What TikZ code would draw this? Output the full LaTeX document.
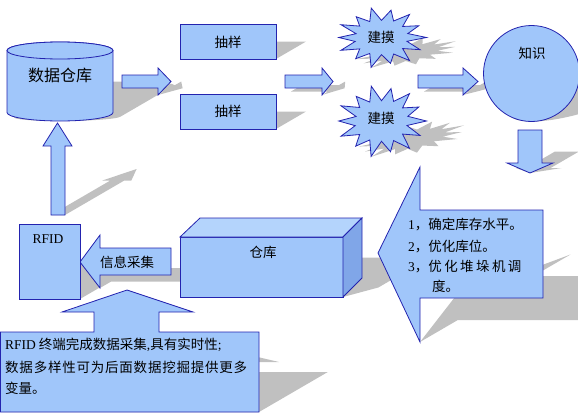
\documentclass[tikz,border=0pt]{standalone}
\usepackage{fontspec}
\setmainfont{Liberation Serif}
\newfontfamily\cjk{Noto Sans CJK SC}
\definecolor{fillb}{RGB}{160,198,250}
\definecolor{lineb}{RGB}{35,35,175}
\definecolor{topb}{RGB}{180,212,252}
\definecolor{sideb}{RGB}{128,166,232}
\definecolor{shad}{RGB}{192,192,192}
\tikzset{
  shp/.style={fill=fillb, draw=lineb, line width=0.8pt, line join=miter},
  sdw/.style={fill=shad, draw=none, cm={1,0,0.86,0.5,({0.86*#1pt},{-0.5*#1pt})}},
  lbl/.style={inner sep=0pt, font=\cjk\fontsize{13.5}{16}\selectfont},
}
% shape paths (pixel coordinates, y downwards)
\newcommand\pCyl{(7,50.5) -- (7,112.5) arc[start angle=180,end angle=360,x radius=53pt,y radius=8.5pt] -- (113,50.5) arc[start angle=0,end angle=180,x radius=53pt,y radius=8.5pt] -- cycle}
\newcommand\pBox[4]{(#1,#2) -- (#3,#2) -- (#3,#4) -- (#1,#4) -- cycle}
\newcommand\pRA[3]{(#1,75) -- (#2,75) -- (#2,68) -- (#3,81.5) -- (#2,95) -- (#2,88) -- (#1,88) -- cycle}
\newcommand\pStar[2]{(0:#1 and #2) \foreach \f [count=\i] in {.58,.95,.6,1.0,.62,.9,.58,1.04,.6,.92,.62,1.0,.6,.95,.58,1.0,.62,.9,.6,1.02,.58,.95,.62,1.0,.6,.92,.6}{ -- ({\i*360/28}:{#1*\f} and {#2*\f}) } -- cycle}
\newcommand\pCirc{(531.5,73.5) circle[radius=48]}
\newcommand\pDown{(518,130) -- (542,130) -- (542,163) -- (553,163) -- (530,173) -- (507,163) -- (518,163) -- cycle}
\newcommand\pBig{(378,253) -- (420,167) -- (420,210) -- (543,210) -- (543,298) -- (420,298) -- (420,342) -- cycle}
\newcommand\pCube{(180,237) -- (200,218) -- (362,218) -- (362,278) -- (343,297) -- (180,297) -- cycle}
\newcommand\pInfo{(80,262) -- (100,235) -- (100,248) -- (171,248) -- (171,275) -- (100,275) -- (100,288) -- cycle}
\newcommand\pUp{(57.5,123) -- (72,146) -- (65,146) -- (65,215) -- (51,215) -- (51,146) -- (43,146) -- cycle}
\newcommand\pCall{(0.5,332) -- (94,332) -- (94,312) -- (62,312) -- (127,290) -- (193,312) -- (159,312) -- (159,332) -- (259,332) -- (259,412) -- (0.5,412) -- cycle}
\begin{document}
\begin{tikzpicture}[x=1pt,y=-1pt]
\useasboundingbox (0,0) rectangle (578,415);
% ---- shadows ----
\fill[sdw=121] \pCyl;
\fill[sdw=59] \pBox{180}{24}{276}{59};
\fill[sdw=129] \pBox{180}{94}{276}{129};
\fill[sdw=95] \pRA{122}{158}{171};
\fill[sdw=95] \pRA{285}{322}{333};
\fill[sdw=95] \pRA{418}{463}{478};
\fill[sdw=68, shift={(381.5,37.5)}] \pStar{45}{29.5};
\fill[sdw=157, shift={(381.5,121)}] \pStar{45}{35};
\fill[sdw=121.5] \pCirc;
\fill[sdw=173] \pDown;
\fill[sdw=342] \pBig;
\fill[sdw=297] \pCube;
\fill[sdw=288] \pInfo;
\fill[sdw=299] \pBox{19}{224}{80}{299};
\fill[sdw=215] \pUp;
\fill[sdw=412] \pCall;
% ---- shapes ----
\draw[shp] \pCyl;
\draw[shp] (60,50.5) ellipse[x radius=53pt, y radius=8.5pt];
\node[lbl, font=\cjk\fontsize{16}{18}\selectfont] (dw) at (60,75) {数据仓库};
\draw[shp] \pBox{180}{24}{276}{59};
\node[lbl] (cy1) at (228,42) {抽样};
\draw[shp] \pBox{180}{94}{276}{129};
\node[lbl] (cy2) at (228,111) {抽样};
\draw[shp] \pRA{122}{158}{171};
\draw[shp] \pRA{285}{322}{333};
\draw[shp] \pRA{418}{463}{478};
\draw[shp, shift={(381.5,37.5)}] \pStar{45}{29.5};
\node[lbl] (jm1) at (381,37) {建摸};
\draw[shp, shift={(381.5,121)}] \pStar{45}{35};
\node[lbl] (jm2) at (381,118) {建摸};
\draw[shp] \pCirc;
\node[lbl] (zs) at (532,53) {知识};
\draw[shp] \pDown;
\draw[shp] \pBig;
\node[lbl, anchor=west] (t1) at (408,225) {{\rmfamily 1}，确定库存水平。};
\node[lbl, anchor=west] (t2) at (408,247) {{\rmfamily 2}，优化库位。};
\node[lbl, anchor=west] (t3) at (408,267) {{\rmfamily 3}，\makebox[93pt][l]{优\hfill 化\hfill 堆\hfill 垛\hfill 机\hfill 调}};
\node[lbl, anchor=west] (t4) at (432,286) {度。};
% cube
\draw[shp] (180,237) rectangle (343,297);
\draw[shp, fill=topb] (180,237) -- (200,218) -- (362,218) -- (343,237) -- cycle;
\draw[shp, fill=sideb] (343,237) -- (362,218) -- (362,278) -- (343,297) -- cycle;
\node[lbl] (ck) at (263,252) {仓库};
\draw[shp] \pInfo;
\node[lbl] (xx) at (127,262) {信息采集};
\draw[shp] \pBox{19}{224}{80}{299};
\node[lbl, font=\rmfamily\fontsize{13.5}{16}\selectfont] (rfid) at (48,239) {RFID};
\draw[shp] \pUp;
\draw[shp] \pCall;
\node[lbl, anchor=west] (c1) at (5,345) {{\rmfamily RFID} 终端完成数据采集{\rmfamily ,}具有实时性{\rmfamily ;}};
\node[lbl, anchor=west] (c2) at (5,367) {\makebox[242pt][l]{数\hfill 据\hfill 多\hfill 样\hfill 性\hfill 可\hfill 为\hfill 后\hfill 面\hfill 数\hfill 据\hfill 挖\hfill 掘\hfill 提\hfill 供\hfill 更\hfill 多}};
\node[lbl, anchor=west] (c3) at (5,388) {变量。};
\end{tikzpicture}
\end{document}
